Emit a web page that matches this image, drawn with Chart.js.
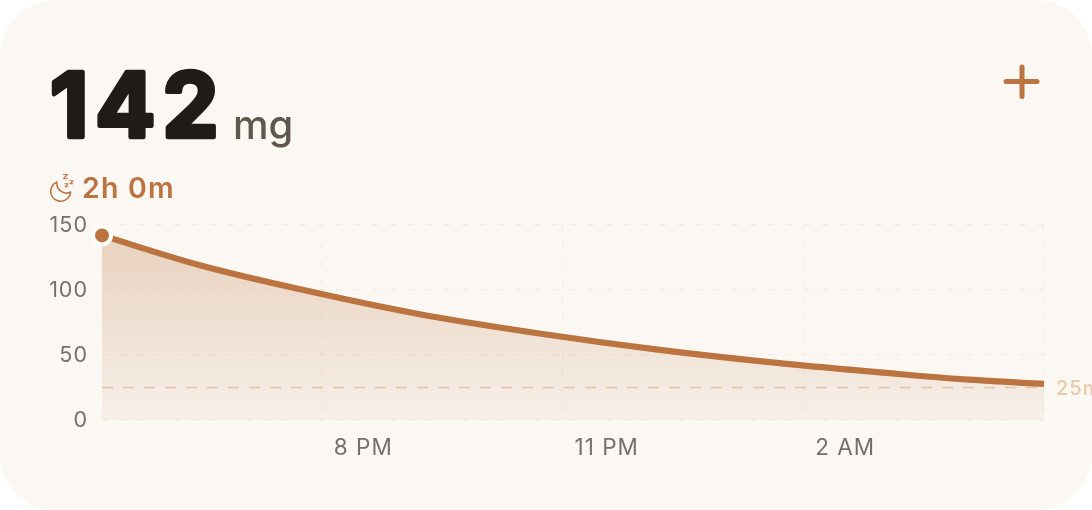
<!DOCTYPE html>
<html><head><meta charset="utf-8">
<style>
html,body{margin:0;padding:0;width:1092px;height:510px;overflow:hidden;background:#fff;font-family:Inter,sans-serif}
#card{position:absolute;left:0;top:0;width:1092px;height:510px;background:#fbf8f3;border-radius:56px;overflow:hidden}
canvas{position:absolute;left:0;top:0}
.t{position:absolute;white-space:nowrap;line-height:1}
#unit{left:233px;top:105px;font-size:40px;font-weight:500;color:#5f574e}
#dur{left:82px;top:174px;font-size:28.5px;font-weight:600;color:#bb7340;letter-spacing:1.2px}
svg{position:absolute}
</style></head><body>
<div id="card">
<canvas id="c" width="1092" height="510"></canvas>
<svg style="left:0;top:40px" width="240" height="120"><text x="50" y="97" font-family="Inter" font-size="89" font-weight="700" letter-spacing="7" fill="#1f1b16" stroke="#1f1b16" stroke-width="4.5" stroke-linejoin="round" paint-order="stroke">142</text></svg>
<div class="t" id="unit">mg</div>
<div class="t" id="dur">2h 0m</div>
<svg style="left:48px;top:170px" width="30" height="32" viewBox="0 0 30 32" fill="none" stroke="#bb7340">
<path d="M9 12A10 10 0 1 0 22.7 22A9.5 9.5 0 0 1 9 12Z" stroke-width="1.5" stroke-linejoin="round"/>
<path d="M15.5 4.5h4l-4 4.2h4M17 13.8h3l-3 3h3M22 10.8h3l-3 3h3" stroke-width="1.1" stroke-linecap="round" stroke-linejoin="round"/>
</svg>
<svg style="left:1000px;top:60px" width="44" height="44" fill="none" stroke="#bb7340" stroke-width="5" stroke-linecap="round">
<path d="M22 7V36.5M6 21.5H37"/></svg>
</div>
<script src="https://cdn.jsdelivr.net/npm/chart.js@4/dist/chart.umd.min.js"></script>
<script>
const hours=[17.26,18.48,19.73,21.22,22.71,24.21,25.70,27.07,28.07,29];
const caffeine=[142,119,100.5,81.3,66.5,53.9,43.7,36,31,27.8];
const limitHours=[17.26,29];
const limitValues=[25,25];
const limitLabel='25mg';
const tickHours=[20,23,26,29];
const tickLabels=['8 PM','11 PM','2 AM',''];
const yTicks=[0,50,100,150];
const gridColor='rgba(130,105,80,0.08)';
const font='Inter';
const refLabel={id:'refLabel',afterDatasetsDraw(ch){
  const c=ch.ctx,y=ch.scales.y.getPixelForValue(limitValues[0]);
  c.save();c.font='500 20px '+font;c.fillStyle='#e5cba9';c.textAlign='left';c.textBaseline='middle';
  c.letterSpacing='1px';
  c.fillText(limitLabel,1056,y+1);c.restore();
}};
new Chart(document.getElementById('c'),{
  type:'line',
  data:{datasets:[
    {data:limitHours.map((x,i)=>({x,y:limitValues[i]})),borderColor:'#e8cdb2',borderWidth:1.3,borderDash:[11,10],pointRadius:0,fill:false,order:1},
    {data:hours.map((x,i)=>({x,y:caffeine[i]})),borderColor:'#bb7340',borderWidth:6.2,cubicInterpolationMode:'monotone',clip:false,fill:'origin',order:0,
     backgroundColor(ctx){const a=ctx.chart.chartArea;if(!a)return 'transparent';
       const g=ctx.chart.ctx.createLinearGradient(0,a.top,0,a.bottom);
       g.addColorStop(0,'rgba(189,116,64,0.30)');g.addColorStop(1,'rgba(189,116,64,0.06)');return g;},
     pointRadius:c=>c.dataIndex===0?9:0,pointBorderWidth:c=>c.dataIndex===0?4:0,
     pointBackgroundColor:'#bb7340',pointBorderColor:'#fffefb',pointHoverRadius:0}
  ]},
  options:{
    responsive:false,animation:false,events:[],
    layout:{autoPadding:false,padding:{left:0,right:48,top:225,bottom:0}},
    plugins:{legend:{display:false},tooltip:{enabled:false}},
    scales:{
      x:{type:'linear',min:hours[0],max:29,
        border:{display:false,dash:[6,12]},
        grid:{color:gridColor,lineWidth:1.2,drawTicks:false},
        afterBuildTicks(s){s.ticks=tickHours.map(v=>({value:v}));},
        afterFit(s){s.height=90;},
        ticks:{autoSkip:false,maxRotation:0,align:'start',labelOffset:12,padding:15,color:'#75706a',font:{family:font,size:22.5,weight:'400'},
          callback:v=>tickLabels[tickHours.indexOf(v)]??''}
      },
      y:{min:0,max:150,
        border:{display:false,dash:[6,12]},
        grid:{color:gridColor,lineWidth:1.2,drawTicks:false},
        afterBuildTicks(s){s.ticks=yTicks.map(v=>({value:v}));},
        afterFit(s){s.width=102;},
        ticks:{padding:14,labelOffset:1,color:'#75706a',font:{family:font,size:21.5,weight:'400'}}
      }
    }
  },
  plugins:[refLabel,{id:'spacing',beforeDraw(ch){ch.ctx.letterSpacing='1px';}}]
});
</script></body></html>
